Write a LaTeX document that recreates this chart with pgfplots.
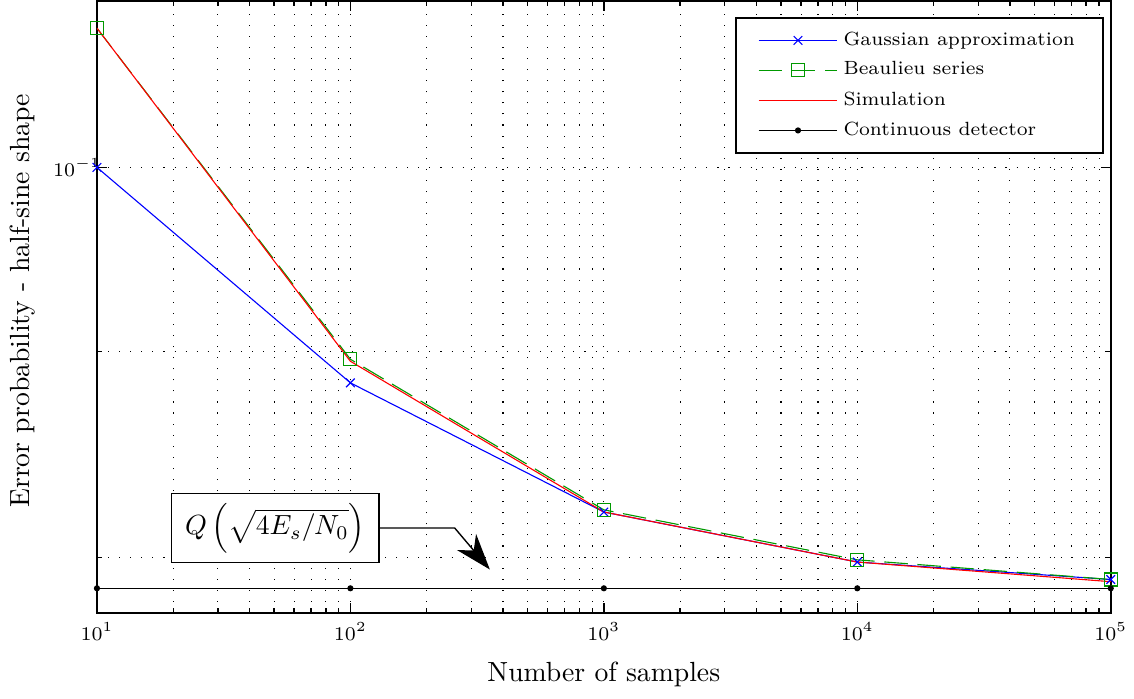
\documentclass[border=0pt]{standalone}
\usepackage{pgfplots}
\pgfplotsset{compat=1.18}
\usetikzlibrary{arrows.meta}
\definecolor{mgreen}{rgb}{0,0.6,0}

\begin{document}
\begin{tikzpicture}
\useasboundingbox (-35pt,-30.7pt) rectangle (374.4pt,221.3pt);
\begin{axis}[
	scale only axis,
	width=366pt, height=221pt,
	xmode=log, ymode=log,
	xmin=10, xmax=1e5,
	ymin=0.0775, ymax=0.11,
	ytick={0.1}, minor ytick={0.08,0.09},
	xmajorgrids, xminorgrids, ymajorgrids, yminorgrids,
	grid style={black, line width=0.4pt, dash pattern=on 0.4pt off 3.6pt},
	minor grid style={black, line width=0.4pt, dash pattern=on 0.4pt off 3.6pt},
	tick align=inside,
	major tick length=3.6pt, minor tick length=1.8pt,
	every tick/.style={black, line width=0.5pt},
	axis line style={line width=0.6pt},
	tick label style={font=\fontsize{7}{8}\selectfont},
	yticklabel style={xshift=5pt},
	xlabel={Number of samples},
	ylabel={Error probability - half-sine shape},
	xlabel style={yshift=-1pt},
	ylabel style={at={(axis description cs:-0.073,0.51)}, anchor=center},
	legend cell align=left,
	legend style={font=\fontsize{6.9}{10.8}\selectfont, draw=black, line width=0.6pt,
		at={(axis description cs:1,1)}, anchor=north east,
		xshift=-2.6pt, yshift=-5.8pt, inner xsep=8pt, inner ysep=3pt,
		row sep=0.5pt},
	legend image code/.code={\draw[mark repeat=2,mark phase=2,#1]
		plot coordinates {(0cm,0cm) (0.5cm,0cm) (1cm,0cm)};},
]
\addplot[blue, line width=0.4pt, mark=x, mark size=2.2pt]
	coordinates {(10,0.1) (100,0.0884) (1000,0.0821) (10000,0.0798) (100000,0.0790)};
\addplot[mgreen, line width=0.4pt, dash pattern=on 8.5pt off 3.5pt, mark=square, mark size=2.35pt, mark options={solid}]
	coordinates {(10,0.1083) (100,0.0896) (1000,0.0822) (10000,0.0799) (100000,0.0790)};
\addplot[red, line width=0.4pt]
	coordinates {(10,0.1083) (100,0.0895) (1000,0.0821) (10000,0.0798) (100000,0.0789)};
\addplot[black, line width=0.4pt, mark=*, mark size=0.9pt]
	coordinates {(10,0.0786) (100,0.0786) (1000,0.0786) (10000,0.0786) (100000,0.0786)};
\legend{Gaussian approximation, Beaulieu series, Simulation, Continuous detector}

\draw[black, line width=0.5pt, -{Stealth[length=13pt, width=9pt, inset=4pt]}]
	(axis cs:130.6,0.08135) -- (axis cs:258,0.08135) -- (axis cs:355,0.07946);
\node[draw=black, fill=white, line width=0.5pt, anchor=east,
	minimum width=75pt, minimum height=25pt]
	at (axis cs:130.6,0.08135) {$Q\left(\sqrt{4E_s/N_0}\right)$};
\end{axis}
\end{tikzpicture}
\end{document}
